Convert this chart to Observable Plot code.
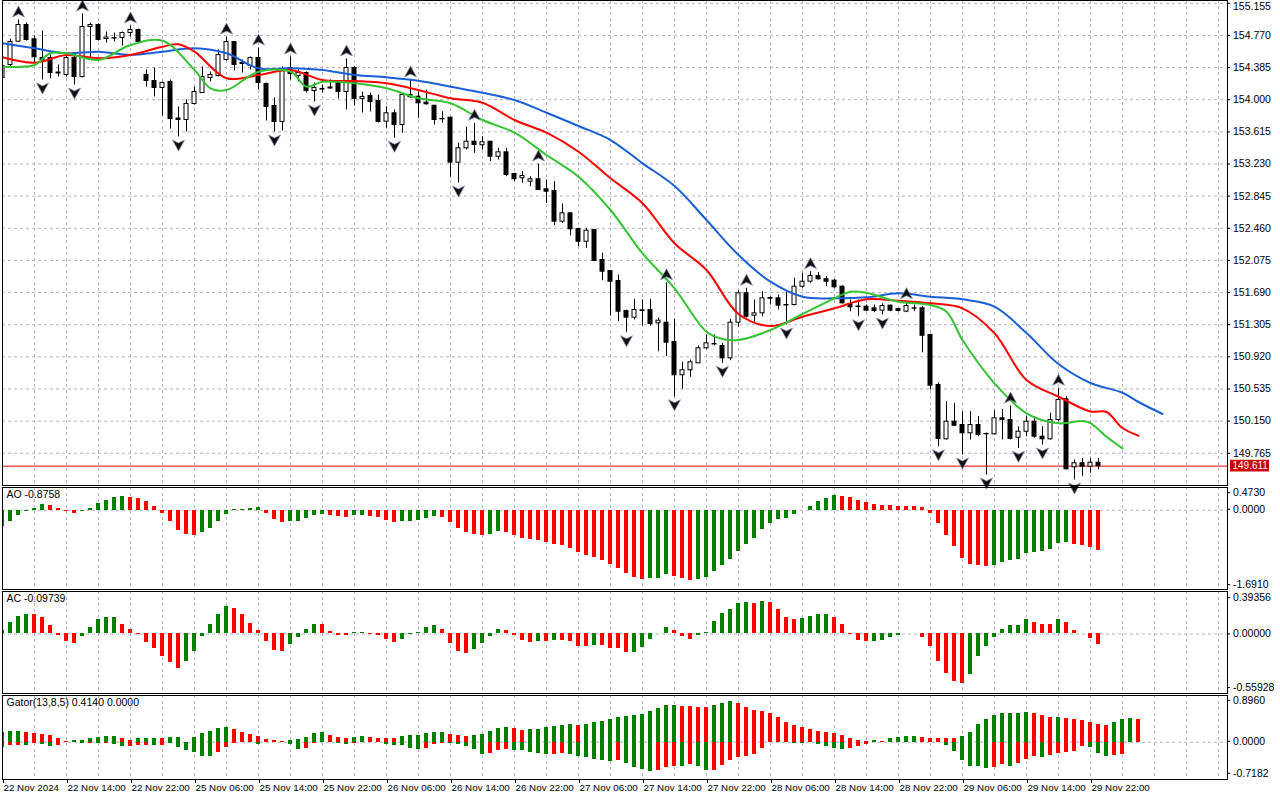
<!DOCTYPE html>
<html><head><meta charset="utf-8">
<script src="https://cdn.jsdelivr.net/npm/d3@7"></script>
<script src="https://cdn.jsdelivr.net/npm/@observablehq/plot@0.6"></script>
<style>
html,body{margin:0;padding:0;background:#fff;}
#chart{position:relative;width:1280px;height:800px;overflow:hidden;background:#fff;}
</style></head><body><div id="chart"></div>
<script>
// ---------- DATA (USDJPY H1, 22–29 Nov 2024) ----------
const open = [
154.260,154.416,154.695,154.895,154.724,154.500,154.500,154.326,154.296,154.500,
154.272,154.871,154.895,154.727,154.739,154.739,154.799,154.835,154.296,154.224,
154.140,154.212,153.775,153.757,153.949,154.080,154.260,154.284,154.476,154.691,
154.440,154.404,154.500,154.188,153.925,153.733,154.380,154.284,154.320,154.104,
154.128,154.134,154.200,154.092,154.380,154.009,154.045,153.985,153.737,153.837,
153.697,154.057,154.036,153.964,153.928,153.769,153.785,153.246,153.418,153.497,
153.454,153.497,153.317,153.370,153.110,153.059,153.018,153.047,152.927,152.907,
152.539,152.639,152.451,152.299,152.439,152.080,151.948,151.828,151.469,151.389,
151.477,151.481,151.322,151.329,151.098,150.699,150.759,150.842,151.022,151.074,
151.050,150.902,151.329,151.681,151.413,151.441,151.625,151.621,151.541,151.541,
151.760,151.820,151.888,151.849,151.832,151.760,151.553,151.523,151.520,151.501,
151.473,151.533,151.493,151.461,151.501,151.501,151.182,150.583,149.932,150.143,
150.103,150.004,150.103,149.996,149.992,150.184,150.163,149.951,150.023,150.143,
149.963,149.932,150.163,150.411,149.597,149.645,149.604,149.652];
const high = [
154.452,154.727,154.955,154.919,154.763,154.823,154.536,154.416,154.560,154.560,
155.027,154.919,154.907,154.811,154.799,154.811,154.883,154.847,154.356,154.380,
154.212,154.236,153.913,153.997,154.152,154.392,154.332,154.596,154.751,154.691,
154.476,154.512,154.620,154.200,154.021,154.392,154.512,154.356,154.332,154.200,
154.176,154.236,154.212,154.488,154.392,154.092,154.080,154.057,153.916,153.877,
154.069,154.236,154.116,154.116,153.928,153.856,153.785,153.478,153.670,153.717,
153.557,153.497,153.418,153.418,153.119,153.138,153.078,153.230,153.038,153.018,
152.751,152.647,152.460,152.460,152.439,152.160,151.948,151.900,151.481,151.609,
151.601,151.609,151.385,151.808,151.370,150.855,150.882,151.050,151.182,151.182,
151.082,151.370,151.712,151.741,151.601,151.700,151.640,151.661,151.700,151.861,
151.921,151.940,151.930,151.880,151.849,151.769,151.601,151.601,151.541,151.541,
151.553,151.541,151.501,151.581,151.541,151.521,151.190,150.610,150.383,150.363,
150.263,150.263,150.203,150.008,150.275,150.290,150.330,150.083,150.203,150.203,
150.083,150.244,150.543,150.442,149.684,149.704,149.704,149.704];
const low = [
154.236,154.392,154.691,154.703,154.428,154.236,154.250,154.272,154.272,154.176,
154.260,154.476,154.703,154.679,154.691,154.643,154.751,154.679,154.152,154.033,
153.805,153.649,153.553,153.613,153.937,154.080,154.212,154.272,154.464,154.344,
154.320,154.356,154.116,153.745,153.613,153.625,154.236,154.212,154.080,153.973,
154.080,154.128,154.009,153.877,153.925,153.841,153.853,153.721,153.658,153.538,
153.598,154.017,153.777,153.937,153.697,153.718,153.071,153.002,153.398,153.358,
153.398,153.257,153.278,153.078,153.018,152.999,152.958,152.918,152.759,152.491,
152.520,152.371,152.239,152.220,152.060,151.832,151.409,151.341,151.209,151.361,
151.289,151.289,150.981,150.922,150.442,150.531,150.675,150.842,151.010,151.050,
150.842,150.874,151.274,151.385,151.322,151.401,151.541,151.481,151.301,151.529,
151.741,151.801,151.840,151.760,151.741,151.553,151.461,151.401,151.461,151.449,
151.421,151.461,151.457,151.449,151.461,150.969,150.523,149.843,149.924,150.083,
149.744,149.924,149.963,149.504,149.984,149.924,149.924,149.824,149.963,149.944,
149.864,149.924,150.143,149.564,149.445,149.484,149.525,149.564];
const close = [
154.404,154.691,154.895,154.715,154.508,154.476,154.320,154.314,154.500,154.272,
154.871,154.895,154.715,154.745,154.733,154.799,154.835,154.691,154.224,154.140,
154.200,153.769,153.757,153.949,154.092,154.272,154.296,154.536,154.691,154.416,
154.428,154.500,154.200,153.913,153.733,154.368,154.308,154.320,154.104,154.140,
154.122,154.146,154.092,154.380,154.009,154.033,153.973,153.733,153.837,153.697,
154.057,154.029,153.957,153.945,153.757,153.765,153.246,153.418,153.497,153.458,
153.490,153.317,153.370,153.098,153.047,153.086,153.047,152.918,152.898,152.539,
152.639,152.448,152.299,152.431,152.068,151.940,151.820,151.461,151.389,151.481,
151.469,151.313,151.353,151.089,150.699,150.759,150.855,151.022,151.082,151.068,
150.902,151.329,151.681,151.401,151.441,151.621,151.616,151.533,151.535,151.760,
151.820,151.888,151.849,151.820,151.753,151.561,151.513,151.517,151.473,151.469,
151.529,151.473,151.469,151.529,151.497,151.173,150.574,149.936,150.143,150.095,
150.004,150.103,149.984,149.992,150.184,150.163,149.936,150.023,150.143,149.963,
149.932,150.163,150.403,149.573,149.645,149.604,149.652,149.611];
const bid = 149.611;

// Alligator lines (bar index incl. forward shift, value)
const jawBars = [0,4,8,12,16,20,24,28,32,36,40,44,48,52,56,60,64,68,72,76,80,84,88,92,96,100,104,108,112,116,120,124,128,132,136,140,142,145];
const jawValues = [154.676,154.616,154.556,154.575,154.536,154.575,154.616,154.556,154.376,154.376,154.356,154.296,154.269,154.228,154.156,154.084,153.997,153.844,153.685,153.517,153.238,152.966,152.559,152.140,151.820,151.640,151.621,151.633,151.681,151.640,151.609,151.521,151.205,150.834,150.607,150.490,150.379,150.235];
const teethBars = [0,4,8,12,16,20,22,24,28,32,36,40,44,48,52,56,60,64,68,72,76,80,84,88,92,96,100,104,108,112,116,120,124,128,132,136,138,140,142];
const teethValues = [154.508,154.443,154.536,154.496,154.536,154.635,154.664,154.575,154.257,154.296,154.356,154.236,154.224,154.197,154.116,154.017,153.964,153.757,153.605,153.377,153.059,152.759,152.280,151.960,151.433,151.289,151.401,151.501,151.609,151.592,151.561,151.501,151.202,150.642,150.442,150.265,150.259,150.067,149.975];
const lipsBars = [0,2,4,6,8,12,16,20,24,26,28,32,36,38,40,44,48,52,56,60,64,68,72,76,80,84,88,90,92,96,100,104,106,108,112,116,118,120,124,128,132,135,136,138,140];
const lipsValues = [154.395,154.392,154.416,154.556,154.556,154.476,154.655,154.707,154.356,154.137,154.116,154.336,154.336,154.156,154.216,154.197,154.137,154.017,153.957,153.757,153.605,153.338,153.078,152.679,152.160,151.741,151.221,151.134,151.122,151.241,151.433,151.621,151.700,151.688,151.580,151.541,151.461,151.122,150.603,150.244,150.124,150.151,150.127,149.963,149.824];

// Fractals (bar indices)
const upFractals = [2,10,16,28,32,36,43,51,59,67,83,93,101,113,126,132];
const downFractals = [5,9,22,34,39,49,57,78,84,90,98,107,110,117,120,123,127,130,134];

// Awesome Oscillator
const aoValues = [
-0.354,-0.246,-0.123,-0.030,0.043,0.115,0.093,0.028,-0.030,-0.073,
-0.020,0.043,0.144,0.201,0.286,0.290,0.283,0.259,0.187,0.071,
-0.073,-0.246,-0.434,-0.535,-0.540,-0.484,-0.398,-0.246,-0.095,0.006,
0.021,0.028,0.050,-0.066,-0.203,-0.268,-0.246,-0.240,-0.181,-0.123,
-0.102,-0.123,-0.145,-0.167,-0.123,-0.120,-0.145,-0.167,-0.217,-0.268,
-0.253,-0.245,-0.224,-0.181,-0.145,-0.147,-0.268,-0.398,-0.484,-0.527,
-0.549,-0.527,-0.462,-0.484,-0.556,-0.607,-0.628,-0.657,-0.700,-0.743,
-0.772,-0.830,-0.917,-0.982,-1.025,-1.090,-1.183,-1.263,-1.378,-1.465,
-1.508,-1.480,-1.478,-1.393,-1.443,-1.480,-1.523,-1.501,-1.457,-1.328,
-1.206,-1.061,-0.895,-0.744,-0.621,-0.419,-0.289,-0.203,-0.181,-0.095,
0.005,0.071,0.180,0.262,0.310,0.305,0.266,0.201,0.158,0.129,
0.108,0.093,0.092,0.091,0.086,0.050,-0.066,-0.289,-0.556,-0.794,
-1.047,-1.184,-1.187,-1.220,-1.206,-1.141,-1.097,-1.069,-0.946,-0.924,
-0.895,-0.852,-0.729,-0.700,-0.751,-0.772,-0.816,-0.8758];
const aoColors = "ggggggrrrr ggggggrrrr rrrrrggggg gggrrrgggg grrrggrrrr gggggrrrrr rggrrrrrrr rrrrrrrrrr rgggrrrggg gggggggggg gggggrrrrr rrrrrrrrrr rrrrgggggg ggggrrrr";

// Accelerator Oscillator
const acValues = [
0.038,0.106,0.173,0.192,0.190,0.163,0.077,-0.013,-0.077,-0.093,
-0.026,0.067,0.135,0.154,0.156,0.096,0.048,-0.006,-0.083,-0.144,
-0.212,-0.276,-0.333,-0.266,-0.170,-0.026,0.087,0.183,0.260,0.247,
0.186,0.099,0.038,-0.074,-0.160,-0.170,-0.103,-0.035,0.045,0.096,
0.095,0.026,-0.013,-0.016,0.010,0.011,-0.002,-0.013,-0.054,-0.080,
-0.054,-0.005,0.019,0.067,0.077,0.048,-0.087,-0.173,-0.192,-0.154,
-0.093,-0.026,0.048,0.029,-0.016,-0.067,-0.083,-0.074,-0.075,-0.064,
-0.065,-0.077,-0.122,-0.123,-0.112,-0.113,-0.141,-0.142,-0.179,-0.178,
-0.131,-0.054,0.002,0.067,0.029,-0.026,-0.054,-0.016,0.019,0.125,
0.202,0.240,0.298,0.305,0.298,0.317,0.307,0.240,0.163,0.144,
0.145,0.164,0.183,0.192,0.154,0.087,-0.006,-0.058,-0.074,-0.073,
-0.064,-0.035,-0.016,0.003,0.004,-0.035,-0.122,-0.266,-0.381,-0.458,
-0.478,-0.391,-0.218,-0.122,-0.035,0.048,0.077,0.078,0.144,0.115,
0.096,0.087,0.135,0.115,0.038,0.003,-0.045,-0.09739];
const acColors = "ggggrrrrrr gggggrrrrr rrrggggggr rrrrrrgggg rrrrggrrrr gggggrrrrg gggrrrrgrg rrrrgrrrrg ggggrrrggg ggggrgrrrr ggggrrrrrg gggggrrrrr rggggggggr rrgrrrrr";

// Gator Oscillator
const gatorUpper = [
0.184,0.203,0.204,0.184,0.164,0.163,0.125,0.066,0.007,0.026,
0.027,0.066,0.085,0.105,0.106,0.066,0.026,0.066,0.067,0.068,
0.066,0.085,0.086,0.005,0.085,0.164,0.203,0.262,0.282,0.243,
0.184,0.144,0.105,0.046,0.026,0.007,0.026,0.046,0.085,0.164,
0.184,0.125,0.085,0.066,0.085,0.105,0.085,0.084,0.083,0.082,
0.105,0.125,0.126,0.164,0.184,0.185,0.144,0.125,0.105,0.125,
0.144,0.203,0.262,0.282,0.262,0.223,0.243,0.244,0.282,0.302,
0.322,0.341,0.340,0.341,0.381,0.400,0.440,0.479,0.499,0.518,
0.538,0.597,0.656,0.715,0.716,0.714,0.696,0.690,0.676,0.715,
0.755,0.794,0.755,0.676,0.617,0.597,0.558,0.479,0.381,0.322,
0.282,0.243,0.203,0.202,0.164,0.125,0.066,0.026,0.007,0.026,
0.015,0.066,0.085,0.105,0.106,0.085,0.084,0.083,0.082,0.081,
0.105,0.184,0.341,0.440,0.518,0.558,0.559,0.560,0.577,0.558,
0.518,0.479,0.480,0.459,0.440,0.420,0.381,0.341,0.322,0.381,
0.440,0.459,0.440];
const gatorUpperColors = "gggrrrrrrg gggggrrggg rggrgggggr rrrrrrgggg grrrggrrrr ggggggrrrg ggggrrgggg ggrggggggg gggggrrrrg ggrrrrrrrr rrrrrrrrrg rggggrrrrr gggggggggr rrgrrrrrrg ggr";
const gatorLower = [
-0.105,-0.066,-0.066,-0.066,-0.020,-0.046,-0.085,-0.066,-0.005,-0.010,
-0.030,-0.026,-0.030,-0.020,-0.046,-0.085,-0.085,-0.066,-0.066,-0.066,
-0.066,-0.026,-0.105,-0.164,-0.203,-0.282,-0.282,-0.203,-0.105,-0.020,
-0.010,-0.005,-0.046,-0.010,-0.005,-0.003,-0.046,-0.144,-0.125,-0.020,
-0.010,-0.007,-0.026,-0.046,-0.026,-0.010,-0.005,-0.005,-0.046,-0.066,
-0.066,-0.125,-0.144,-0.125,-0.046,-0.026,-0.030,-0.046,-0.085,-0.144,
-0.243,-0.223,-0.164,-0.144,-0.164,-0.165,-0.203,-0.223,-0.243,-0.242,
-0.223,-0.243,-0.282,-0.302,-0.341,-0.361,-0.381,-0.361,-0.420,-0.499,
-0.538,-0.577,-0.558,-0.499,-0.479,-0.480,-0.440,-0.479,-0.558,-0.557,
-0.459,-0.361,-0.302,-0.282,-0.243,-0.125,-0.010,-0.005,-0.003,-0.020,
-0.026,-0.005,-0.046,-0.085,-0.125,-0.144,-0.125,-0.085,-0.046,-0.007,
-0.005,-0.004,-0.007,-0.010,-0.005,-0.004,-0.010,-0.005,-0.066,-0.184,
-0.361,-0.479,-0.480,-0.518,-0.499,-0.440,-0.479,-0.420,-0.341,-0.280,
-0.302,-0.262,-0.223,-0.203,-0.184,-0.085,-0.105,-0.223,-0.282,-0.262,
-0.243,-0.005];
const gatorLowerColors = "rrrgrggrrg grgrggrrrg rggggggrrr rrgrrrggrr rrggrrrrgg gggrrrgggg grrrgggggr rggggggrgg ggrrrgrggr rrrrrrrrrg grggggrrrr rrggrrgrgg ggggrrgrrr grrrrrgggr rr";
const gatorLast = [0.4140, 0.0000];

// Axis ticks and labels
const priceTicks = [155.155,154.770,154.385,154.000,153.615,153.230,152.845,152.460,152.075,151.690,151.305,150.920,150.535,150.150,149.765];
const aoTicks = [0.4730, 0.0000, -1.6910];
const acTicks = [0.39356, 0.00000, -0.55928];
const gatorTicks = [0.8960, 0.0000, -0.7182];
const timeBars = [0,8,16,24,32,40,48,56,64,72,80,88,96,104,112,120,128,136];
const timeLabels = ["22 Nov 2024","22 Nov 14:00","22 Nov 22:00","25 Nov 06:00","25 Nov 14:00","25 Nov 22:00","26 Nov 06:00","26 Nov 14:00","26 Nov 22:00","27 Nov 06:00","27 Nov 14:00","27 Nov 22:00","28 Nov 06:00","28 Nov 14:00","28 Nov 22:00","29 Nov 06:00","29 Nov 14:00","29 Nov 22:00"];

// ---------- STYLE ----------
const FONT = "Liberation Sans, Arial, sans-serif";
const FS = 10.5;
const GRID = "#bdb0c4";
const GREEN = "#008000", RED = "#ff0000";
const RIGHT = 153.125;            // right edge of the plotting area (bar units)
const gridBars = d3.range(4, 153, 4);

const chart = document.getElementById("chart");
function mount(svg, top) {
  svg.style.position = "absolute"; svg.style.left = "0px"; svg.style.top = top + "px";
  svg.style.maxWidth = "none"; svg.style.overflow = "visible";
  chart.appendChild(svg);
}
function base(height, marginBottom, yDomain, xAxis) {
  return {
    width: 1280, height, marginLeft: 2, marginRight: 53, marginTop: 0, marginBottom,
    x: xAxis ? {domain: [0, RIGHT], label: null} : {domain: [0, RIGHT], axis: null},
    y: {domain: yDomain, axis: null},
    color: {type: "identity"},
    style: {fontFamily: FONT, fontSize: FS + "px", background: "transparent", color: "black"}
  };
}
function rightLabel(v, text, dy, tdy) {
  return [
    Plot.ruleY([v], {x1: RIGHT, x2: RIGHT + 0.4, dy, stroke: "black", clip: false}),
    Plot.text([v], {y: d => d, text: () => text, frameAnchor: "right", dx: 5.5, dy: tdy ?? dy,
      textAnchor: "start", fontSize: FS, fontFamily: FONT, fill: "black", clip: false})
  ];
}
function title(t) {
  return Plot.text([t], {text: d => d, frameAnchor: "top-left", dx: 4, dy: 3.5,
    textAnchor: "start", lineAnchor: "top", fontSize: FS, fontFamily: FONT, fill: "black"});
}
function histMarks(vals, colors) {
  const cols = colors.replace(/ /g, "");
  const data = vals.map((v, i) => ({k: i, v, col: cols[i] === "g" ? GREEN : RED}));
  return Plot.rect(data, {x1: d => d.k - 0.25, x2: d => d.k + 0.25, y1: 0, y2: "v",
    fill: "col", shapeRendering: "crispEdges", clip: true});
}
const vGrid = Plot.ruleX(gridBars, {stroke: GRID, strokeDasharray: "3,3"});
const zeroLine = Plot.ruleY([0], {stroke: GRID, strokeDasharray: "3,3"});

// custom fractal arrowheads
const arrowUp = {draw(c) { c.moveTo(0, -6); c.lineTo(6, 5); c.lineTo(0, 2); c.lineTo(-6, 5); c.closePath(); }};
const arrowDown = {draw(c) { c.moveTo(0, 6); c.lineTo(6, -5); c.lineTo(0, -2); c.lineTo(-6, -5); c.closePath(); }};

// ---------- MAIN PRICE PANEL ----------
const bars = open.map((o, i) => ({k: i, o, h: high[i], l: low[i], c: close[i]}));
const toLine = (ks, vs) => ks.map((k, i) => ({k, v: vs[i]}));
const mainPlot = Plot.plot({
  ...base(487, 2, [149.3788, 155.1885]),
  marks: [
    Plot.ruleY(priceTicks, {stroke: GRID, strokeDasharray: "3,3"}),
    vGrid,
    Plot.ruleY([bid], {stroke: "#e00000", strokeWidth: 1}),
    Plot.ruleX(bars, {x: "k", y1: "l", y2: "h", stroke: "black", strokeWidth: 1, clip: true}),
    Plot.rect(bars, {x1: d => d.k - 0.25, x2: d => d.k + 0.25, y1: "o", y2: "c",
      fill: d => d.c >= d.o ? "white" : "black", stroke: "black", strokeWidth: 1, clip: true}),
    Plot.line(toLine(jawBars, jawValues), {x: "k", y: "v", stroke: "#1a5fd6", strokeWidth: 2, curve: "catmull-rom", clip: true}),
    Plot.line(toLine(teethBars, teethValues), {x: "k", y: "v", stroke: "#ff0000", strokeWidth: 2, curve: "catmull-rom", clip: true}),
    Plot.line(toLine(lipsBars, lipsValues), {x: "k", y: "v", stroke: "#33c433", strokeWidth: 2, curve: "catmull-rom", clip: true}),
    Plot.dot(upFractals.map(k => ({k, y: high[k]})), {x: "k", y: "y", symbol: arrowUp, fill: "#111", stroke: "#7c8aa6", strokeWidth: 0.7, dy: -8}),
    Plot.dot(downFractals.map(k => ({k, y: low[k]})), {x: "k", y: "y", symbol: arrowDown, fill: "#111", stroke: "#7c8aa6", strokeWidth: 0.7, dy: 8}),
    ...priceTicks.flatMap((p, i) => rightLabel(p, p.toFixed(3), 0, i === 0 ? 3 : 0)),
    Plot.rect([bid], {x1: RIGHT + 0.375, x2: RIGHT + 5.25, y1: d => d - 0.07, y2: d => d + 0.07, fill: "#c80000", clip: false}),
    Plot.text([bid], {y: d => d, text: d => d.toFixed(3), frameAnchor: "right", dx: 5, textAnchor: "start",
      fill: "white", fontSize: 10, fontFamily: FONT, clip: false}),
    Plot.frame({stroke: "black"})
  ]
});
mount(mainPlot, 0);

// ---------- AO PANEL ----------
const aoPlot = Plot.plot({
  ...base(104, 2, [-1.7148, 0.4925]),
  marks: [
    vGrid, zeroLine,
    histMarks(aoValues, aoColors),
    title("AO " + aoValues[aoValues.length - 1].toFixed(4)),
    ...rightLabel(aoTicks[0], aoTicks[0].toFixed(4), 4.3),
    ...rightLabel(aoTicks[1], aoTicks[1].toFixed(4), -1),
    ...rightLabel(aoTicks[2], aoTicks[2].toFixed(4), -3.7),
    Plot.frame({stroke: "black"})
  ]
});
mount(aoPlot, 487);

// ---------- AC PANEL ----------
const acPlot = Plot.plot({
  ...base(104, 2, [-0.5727, 0.409]),
  marks: [
    vGrid, zeroLine,
    histMarks(acValues, acColors),
    title("AC " + acValues[acValues.length - 1].toFixed(5)),
    ...rightLabel(acTicks[0], acTicks[0].toFixed(5), 4.6),
    ...rightLabel(acTicks[1], acTicks[1].toFixed(5), 0),
    ...rightLabel(acTicks[2], acTicks[2].toFixed(5), -4.5),
    Plot.frame({stroke: "black"})
  ]
});
mount(acPlot, 591);

// ---------- GATOR PANEL + TIME AXIS ----------
const timeMap = new Map(timeBars.map((b, i) => [b, timeLabels[i]]));
const gatorPlot = Plot.plot({
  ...base(105, 21, [-0.7323, 0.9213], true),
  marks: [
    vGrid, zeroLine,
    histMarks(gatorUpper, gatorUpperColors),
    histMarks(gatorLower, gatorLowerColors),
    title("Gator(13,8,5) " + gatorLast[0].toFixed(4) + " " + gatorLast[1].toFixed(4)),
    ...rightLabel(gatorTicks[0], gatorTicks[0].toFixed(4), 3.5),
    ...rightLabel(gatorTicks[1], gatorTicks[1].toFixed(4), -1),
    ...rightLabel(gatorTicks[2], gatorTicks[2].toFixed(4), -5.5),
    Plot.axisX(timeBars, {anchor: "bottom", tickSize: 4, tickPadding: 1, textAnchor: "start", dx: 1,
      tickFormat: d => timeMap.get(d), fontSize: 9.8, fontFamily: FONT, label: null}),
    Plot.frame({stroke: "black"})
  ]
});
mount(gatorPlot, 695);
</script></body></html>
